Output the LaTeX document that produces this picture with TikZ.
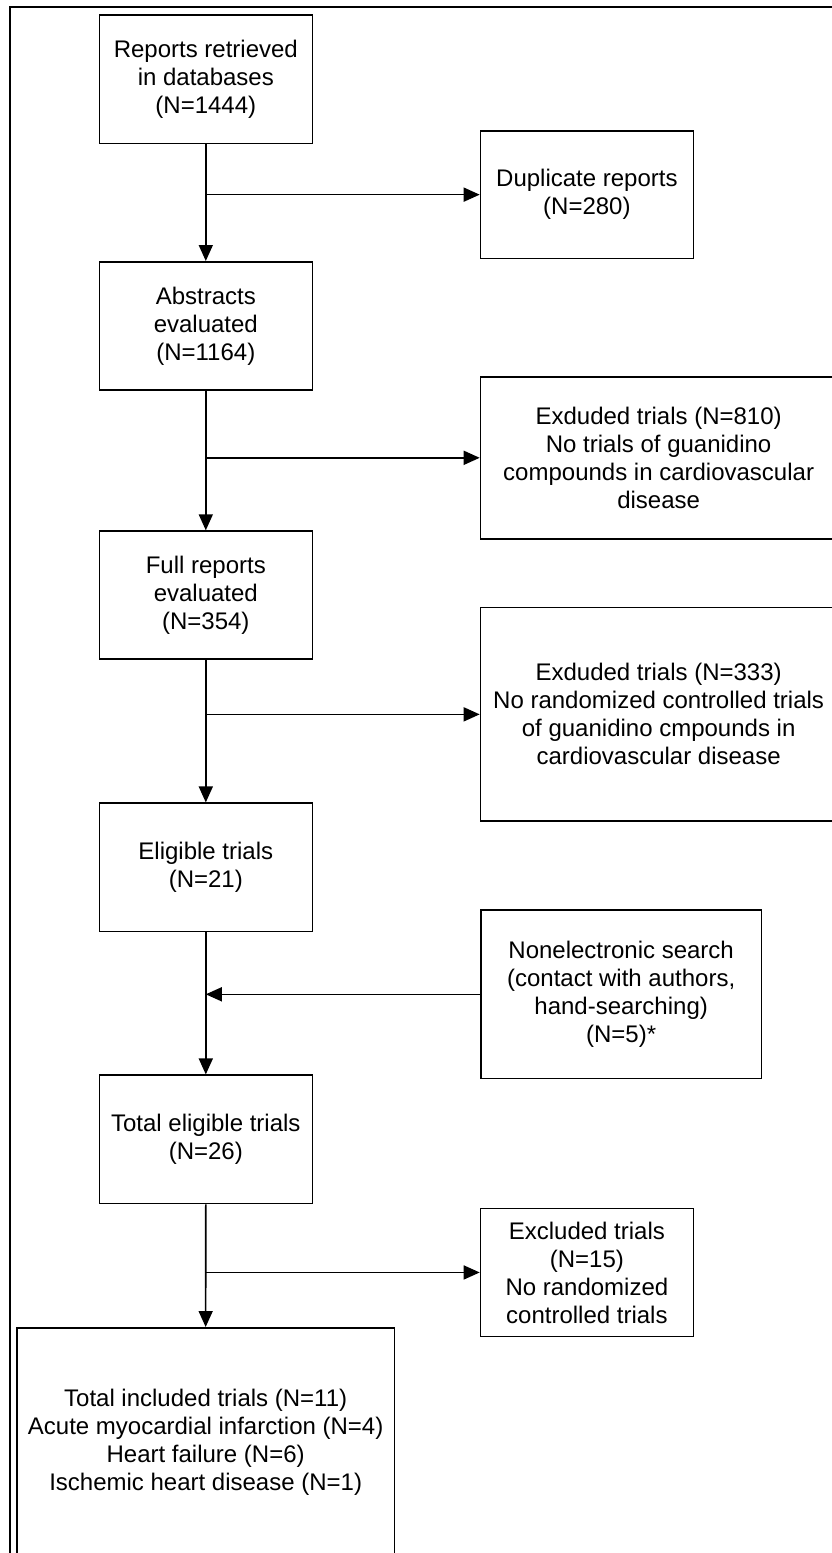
\documentclass[tikz,border=0pt]{standalone}
\usepackage{fontspec}
\setmainfont{Liberation Sans}
\usetikzlibrary{arrows.meta}
\tikzset{
  box/.style={draw, line width=1.6pt, anchor=north west, align=center, inner sep=1pt,
    font=\fontsize{24}{28}\selectfont},
  arr/.style={line width=1.6pt, -{Triangle[length=16pt,width=14pt]}},
  frameline/.style={line width=2pt}
}
\newcommand{\bx}[7]{% name, x1, y1, x2, y2, text, extra
  \node[box, minimum width=#4pt-#2pt, minimum height=#5pt-#3pt, #7] (#1) at (#2,#3) {#6};}
\begin{document}
\begin{tikzpicture}[x=1pt,y=-1pt]
\useasboundingbox (0,0) rectangle (832,1553);
\fill[white] (0,0) rectangle (832,1553);
\clip (0,0) rectangle (832,1553);
\coordinate (fbl) at (9.6,1560);
\coordinate (ftl) at (9.6,7.3);
\coordinate (ftr) at (840,7.3);
\draw[frameline] (fbl) -- (ftl) -- (ftr);
% main column
\bx{b1}{98.5}{14.3}{311.5}{142.7}{Reports retrieved\\in databases\\(N=1444)}{}
\bx{b2}{98.5}{261}{311.5}{389}{Abstracts\\evaluated\\(N=1164)}{}
\bx{b3}{98.5}{530.3}{311.5}{658.4}{Full reports\\evaluated\\(N=354)}{}
\bx{b4}{98.5}{802.4}{311.5}{930.5}{Eligible trials\\(N=21)}{}
\bx{b5}{98.5}{1074.4}{311.5}{1202.8}{Total eligible trials\\(N=26)}{}
\bx{b6}{16}{1327}{393.7}{1556}{Total included trials (N=11)\\Acute myocardial infarction (N=4)\\Heart failure (N=6)\\Ischemic heart disease (N=1)}{}
% right column
\bx{r1}{479.7}{130}{692.5}{257.7}{Duplicate reports\\(N=280)}{}
\bx{r2}{479.7}{376}{836}{538}{Exduded trials (N=810)\\No trials of guanidino\\compounds in cardiovascular\\disease}{}
\bx{r3}{479.7}{606.8}{836}{820.3}{Exduded trials (N=333)\\No randomized controlled trials\\of guanidino cmpounds in\\cardiovascular disease}{}
\bx{r4}{480}{909.3}{760.7}{1077.7}{Nonelectronic search\\(contact with authors,\\hand-searching)\\(N=5)*}{}
\bx{r5}{479.7}{1207.8}{692.5}{1335.5}{Excluded trials\\(N=15)\\No randomized\\controlled trials}{}
% vertical connectors
\draw[arr] (b1.south) -- (b2.north);
\draw[arr] (b2.south) -- (b3.north);
\draw[arr] (b3.south) -- (b4.north);
\draw[arr] (b4.south) -- (b5.north);
\draw[arr] (b5.south) -- (b6.north);
% side connectors
\draw[arr] (b1.south |- r1.west) -- (r1.west);
\draw[arr] (b2.south |- r2.west) -- (r2.west);
\draw[arr] (b3.south |- r3.west) -- (r3.west);
\draw[arr] (r4.west) -- (b4.south |- r4.west);
\draw[arr] (b5.south |- r5.west) -- (r5.west);
\end{tikzpicture}
\end{document}
